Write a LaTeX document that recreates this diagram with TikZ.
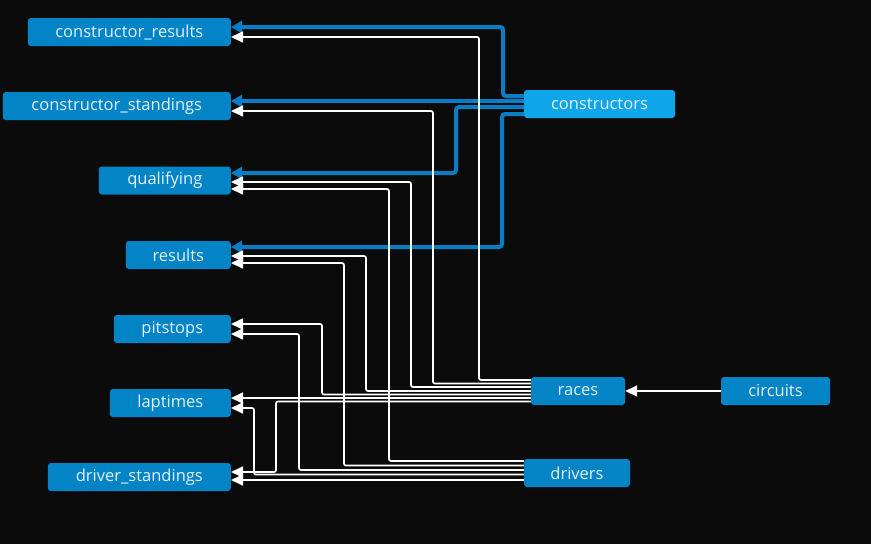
\documentclass[tikz,border=0pt]{standalone}
\usepackage{fontspec}
\setmainfont{Open Sans}
\usetikzlibrary{arrows.meta}
\definecolor{bg}{HTML}{0B0B0B}
\definecolor{nodeblue}{HTML}{0284C7}
\definecolor{nodelight}{HTML}{0EA5E9}
\definecolor{edgeblue}{HTML}{0A7EC4}
\definecolor{txt}{HTML}{E6F3FB}
\tikzset{
  tbl/.style={rectangle, rounded corners=3pt, fill=nodeblue, text=txt, minimum height=28pt, inner sep=0pt, font=\fontsize{16.5}{19}\selectfont},
  wl/.style={draw=white, line width=1.7pt, rounded corners=2pt, -{Triangle[length=12pt,width=11pt]}},
  bl/.style={draw=edgeblue, line width=4pt, rounded corners=3pt, -{Triangle[length=11pt,width=12pt]}},
}
\begin{document}
\begin{tikzpicture}[x=1pt,y=-1pt]
\fill[bg] (0,0) rectangle (871,544);
\useasboundingbox (0,0) rectangle (871,544);
% left column
\node[tbl, minimum width=203pt, anchor=east] (cres) at (231,32) {constructor\_results};
\node[tbl, minimum width=228pt, anchor=east] (cst) at (231,106) {constructor\_standings};
\node[tbl, minimum width=132pt, anchor=east] (qual) at (231,180.5) {qualifying};
\node[tbl, minimum width=105pt, anchor=east] (res) at (231,255) {results};
\node[tbl, minimum width=117pt, anchor=east] (pit) at (231,329) {pitstops};
\node[tbl, minimum width=121pt, anchor=east] (lap) at (231,403) {laptimes};
\node[tbl, minimum width=183pt, anchor=east] (ds) at (231,477) {driver\_standings};
% right
\node[tbl, fill=nodelight, minimum width=151pt] (cons) at (599.5,104) {constructors};
\node[tbl, minimum width=94pt] (races) at (578,391) {races};
\node[tbl, minimum width=109pt] (circ) at (775.5,391) {circuits};
\node[tbl, minimum width=106pt] (drv) at (577,473) {drivers};
% blue edges from constructors
\draw[bl] ([yshift=8pt]cons.west) -| (503,60) |- ([yshift=5pt]cres.east);
\draw[bl] ([yshift=3pt]cons.west) -- ([yshift=5pt]cst.east);
\draw[bl] ([yshift=-3pt]cons.west) -| (456,140) |- ([yshift=7.5pt]qual.east);
\draw[bl] ([yshift=-10pt]cons.west) -| (502,180) |- ([yshift=8pt]res.east);
% white edges from races
\draw[wl] ([yshift=11pt]races.west) -| (479,200) |- ([yshift=-5pt]cres.east);
\draw[wl] ([yshift=7.5pt]races.west) -| (433,250) |- ([yshift=-5pt]cst.east);
\draw[wl] ([yshift=4pt]races.west) -| (411,280) |- ([yshift=-1.5pt]qual.east);
\draw[wl] ([yshift=0pt]races.west) -| (366,320) |- ([yshift=-1pt]res.east);
\draw[wl] ([yshift=-3.5pt]races.west) -| (322,360) |- ([yshift=5pt]pit.east);
\draw[wl] ([yshift=-7pt]races.west) -- ([yshift=5pt]lap.east);
\draw[wl] ([yshift=-10.5pt]races.west) -| (276,440) |- ([yshift=5pt]ds.east);
% white edges from drivers
\draw[wl] ([yshift=12pt]drv.west) -| (389,300) |- ([yshift=-8.5pt]qual.east);
\draw[wl] ([yshift=7.5pt]drv.west) -| (344,360) |- ([yshift=-8pt]res.east);
\draw[wl] ([yshift=3pt]drv.west) -| (299,400) |- ([yshift=-5pt]pit.east);
\draw[wl] ([yshift=-1.5pt]drv.west) -| (254,440) |- ([yshift=-5pt]lap.east);
\draw[wl] ([yshift=-7pt]drv.west) -- ([yshift=-3pt]ds.east);
% circuits to races
\draw[wl] (circ.west) -- (races.east);
\end{tikzpicture}
\end{document}
